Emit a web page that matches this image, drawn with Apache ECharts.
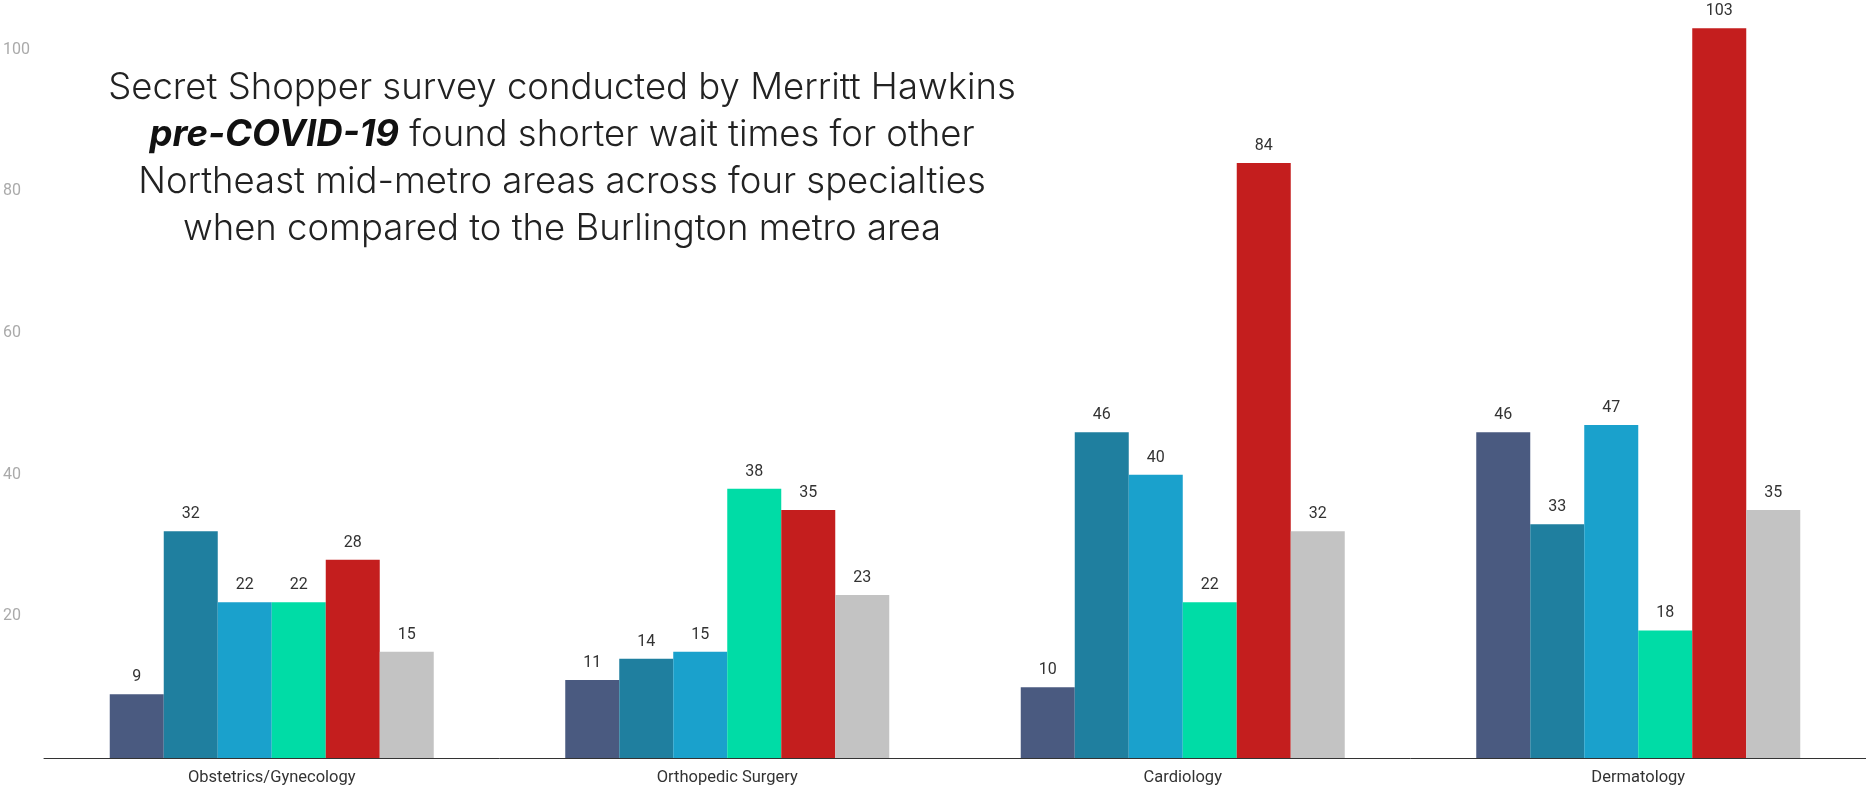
<!DOCTYPE html>
<html>
<head>
<meta charset="utf-8">
<script src="https://cdn.jsdelivr.net/npm/echarts@6/dist/echarts.min.js"></script>
<style>
  html, body { margin: 0; padding: 0; background: #fff; }
  #chart { width: 1866px; height: 789px; }
</style>
</head>
<body>
<div id="chart"></div>
<script>
// specialties on the x axis
const categories = ['Obstetrics/Gynecology', 'Orthopedic Surgery', 'Cardiology', 'Dermatology'];

// wait times (days), one array per metro area
const areaA = [9, 11, 10, 46];
const areaB = [32, 14, 46, 33];
const areaC = [22, 15, 40, 47];
const areaD = [22, 38, 22, 18];
const burlington = [28, 35, 84, 103];
const areaF = [15, 23, 32, 35];

const seriesNames = ['Area A', 'Area B', 'Area C', 'Area D', 'Burlington', 'Area F'];
const seriesData = [areaA, areaB, areaC, areaD, burlington, areaF];
const colors = ['#4a5a80', '#1f7f9f', '#1aa1cc', '#00dca6', '#c41e1e', '#c3c3c3'];

const yTicks = [20, 40, 60, 80, 100];

let chart = echarts.init(document.getElementById('chart'));

let option = {
    animation: false,
    color: colors,
    grid: {
        left: 44,
        right: 0,
        top: 0,
        bottom: 31
    },
    graphic: [{
        type: 'text',
        x: 562,
        y: 65,
        style: {
            text: '{n|Secret Shopper survey conducted by Merritt Hawkins}\n' +
                  '{b|pre-COVID-19}{n| found shorter wait times for other}\n' +
                  '{n|Northeast mid-metro areas across four specialties}\n' +
                  '{n|when compared to the Burlington metro area}',
            align: 'center',
            rich: {
                n: {
                    fontFamily: 'Inter',
                    fontWeight: 300,
                    fontSize: 36.5,
                    lineHeight: 47,
                    fill: '#222'
                },
                b: {
                    fontFamily: 'Inter',
                    fontWeight: 'bold',
                    fontStyle: 'italic',
                    fontSize: 36.5,
                    lineHeight: 47,
                    fill: '#111'
                }
            }
        }
    }],
    xAxis: {
        type: 'category',
        data: categories,
        axisTick: { show: false },
        axisLine: { lineStyle: { color: '#333', width: 1 } },
        axisLabel: {
            color: '#333',
            fontFamily: 'Roboto',
            fontSize: 16.5,
            margin: 11
        }
    },
    yAxis: {
        type: 'value',
        min: 0,
        max: 107,
        interval: 20,
        splitLine: { show: false },
        axisLine: { show: false },
        axisTick: { show: false },
        axisLabel: {
            align: 'left',
            margin: 41,
            color: '#aaa',
            fontFamily: 'Roboto',
            fontSize: 16,
            formatter: function (v) {
                return yTicks.indexOf(v) >= 0 ? String(v) : '';
            }
        }
    },
    series: seriesNames.map(function (name, i) {
        return {
            name: name,
            type: 'bar',
            data: seriesData[i],
            barWidth: 54,
            barGap: '0%',
            label: {
                show: true,
                position: 'top',
                distance: 9,
                color: '#333',
                fontFamily: 'Roboto',
                fontSize: 16
            }
        };
    })
};

chart.setOption(option);
</script>
</body>
</html>
